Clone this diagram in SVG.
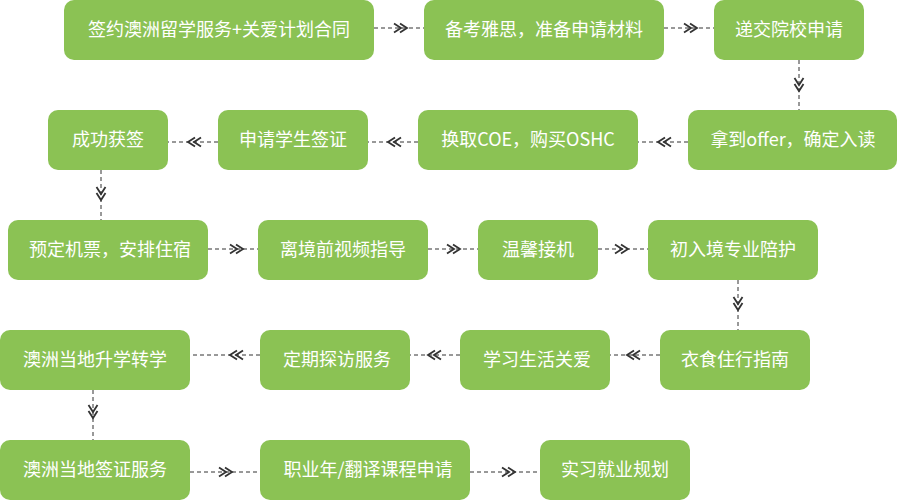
<svg xmlns="http://www.w3.org/2000/svg" width="898" height="500" viewBox="0 0 898 500">
<style>
.box{fill:#8BC254}
.lbl{fill:#ffffff;font-family:"Noto Sans CJK SC","Microsoft YaHei",sans-serif;font-size:18px;text-anchor:middle}
.con{fill:none;stroke:#333;stroke-width:1;stroke-dasharray:4 3;marker-mid:url(#dchev)}
</style>
<defs>
<marker id="dchev" markerUnits="userSpaceOnUse" viewBox="-2 -2 18 14" refX="13" refY="4.5" markerWidth="18" markerHeight="14" orient="auto" overflow="visible">
<path d="M0,0 L7,4.5 L0,9 M6,0 L13,4.5 L6,9" fill="none" stroke="#333" stroke-width="1.8"/>
</marker>
</defs>
<rect width="898" height="500" fill="#ffffff"/>
<g id="connectors">
<path class="con" d="M374,28 L407,28 L424,28"/>
<path class="con" d="M664,28 L697,28 L714,28"/>
<path class="con" d="M799,60 L799,91 L799,110"/>
<path class="con" d="M688,142 L658,142 L638,142"/>
<path class="con" d="M418,142 L388,142 L368,142"/>
<path class="con" d="M218,142 L188,142 L168,142"/>
<path class="con" d="M101,170 L101,200 L101,220"/>
<path class="con" d="M208,249 L243,249 L258,249"/>
<path class="con" d="M428,249 L460,249 L478,249"/>
<path class="con" d="M598,249 L628,249 L648,249"/>
<path class="con" d="M738,280 L738,310 L738,330"/>
<path class="con" d="M660,355 L627,355 L610,355"/>
<path class="con" d="M460,355 L428,355 L410,355"/>
<path class="con" d="M260,355 L230,355 L190,355"/>
<path class="con" d="M93,390 L93,418 L93,440"/>
<path class="con" d="M190,472 L232,472 L260,472"/>
<path class="con" d="M470,472 L515,472 L540,472"/>
</g>
<g id="n1"><rect class="box" x="64" y="0" width="310" height="60" rx="10"/><text class="lbl" x="219" y="36">签约澳洲留学服务+关爱计划合同</text></g>
<g id="n2"><rect class="box" x="424" y="0" width="240" height="60" rx="10"/><text class="lbl" x="544" y="36">备考雅思，准备申请材料</text></g>
<g id="n3"><rect class="box" x="714" y="0" width="150" height="60" rx="10"/><text class="lbl" x="789" y="36">递交院校申请</text></g>
<g id="n4"><rect class="box" x="688" y="110" width="209" height="60" rx="10"/><text class="lbl" x="793" y="146">拿到offer，确定入读</text></g>
<g id="n5"><rect class="box" x="418" y="110" width="220" height="60" rx="10"/><text class="lbl" x="528" y="146">换取COE，购买OSHC</text></g>
<g id="n6"><rect class="box" x="218" y="110" width="150" height="60" rx="10"/><text class="lbl" x="293" y="146">申请学生签证</text></g>
<g id="n7"><rect class="box" x="48" y="110" width="120" height="60" rx="10"/><text class="lbl" x="108" y="146">成功获签</text></g>
<g id="n8"><rect class="box" x="8" y="220" width="200" height="60" rx="10"/><text class="lbl" x="110" y="256">预定机票，安排住宿</text></g>
<g id="n9"><rect class="box" x="258" y="220" width="170" height="60" rx="10"/><text class="lbl" x="343" y="256">离境前视频指导</text></g>
<g id="n10"><rect class="box" x="478" y="220" width="120" height="60" rx="10"/><text class="lbl" x="538" y="256">温馨接机</text></g>
<g id="n11"><rect class="box" x="648" y="220" width="170" height="60" rx="10"/><text class="lbl" x="733" y="256">初入境专业陪护</text></g>
<g id="n12"><rect class="box" x="660" y="330" width="150" height="60" rx="10"/><text class="lbl" x="735" y="366">衣食住行指南</text></g>
<g id="n13"><rect class="box" x="460" y="330" width="150" height="60" rx="10"/><text class="lbl" x="537" y="366">学习生活关爱</text></g>
<g id="n14"><rect class="box" x="260" y="330" width="150" height="60" rx="10"/><text class="lbl" x="337" y="366">定期探访服务</text></g>
<g id="n15"><rect class="box" x="0" y="330" width="190" height="60" rx="10"/><text class="lbl" x="95" y="366">澳洲当地升学转学</text></g>
<g id="n16"><rect class="box" x="0" y="440" width="190" height="60" rx="10"/><text class="lbl" x="95" y="476">澳洲当地签证服务</text></g>
<g id="n17"><rect class="box" x="260" y="440" width="210" height="60" rx="10"/><text class="lbl" x="368" y="476">职业年/翻译课程申请</text></g>
<g id="n18"><rect class="box" x="540" y="440" width="150" height="60" rx="10"/><text class="lbl" x="615" y="476">实习就业规划</text></g>
</svg>
